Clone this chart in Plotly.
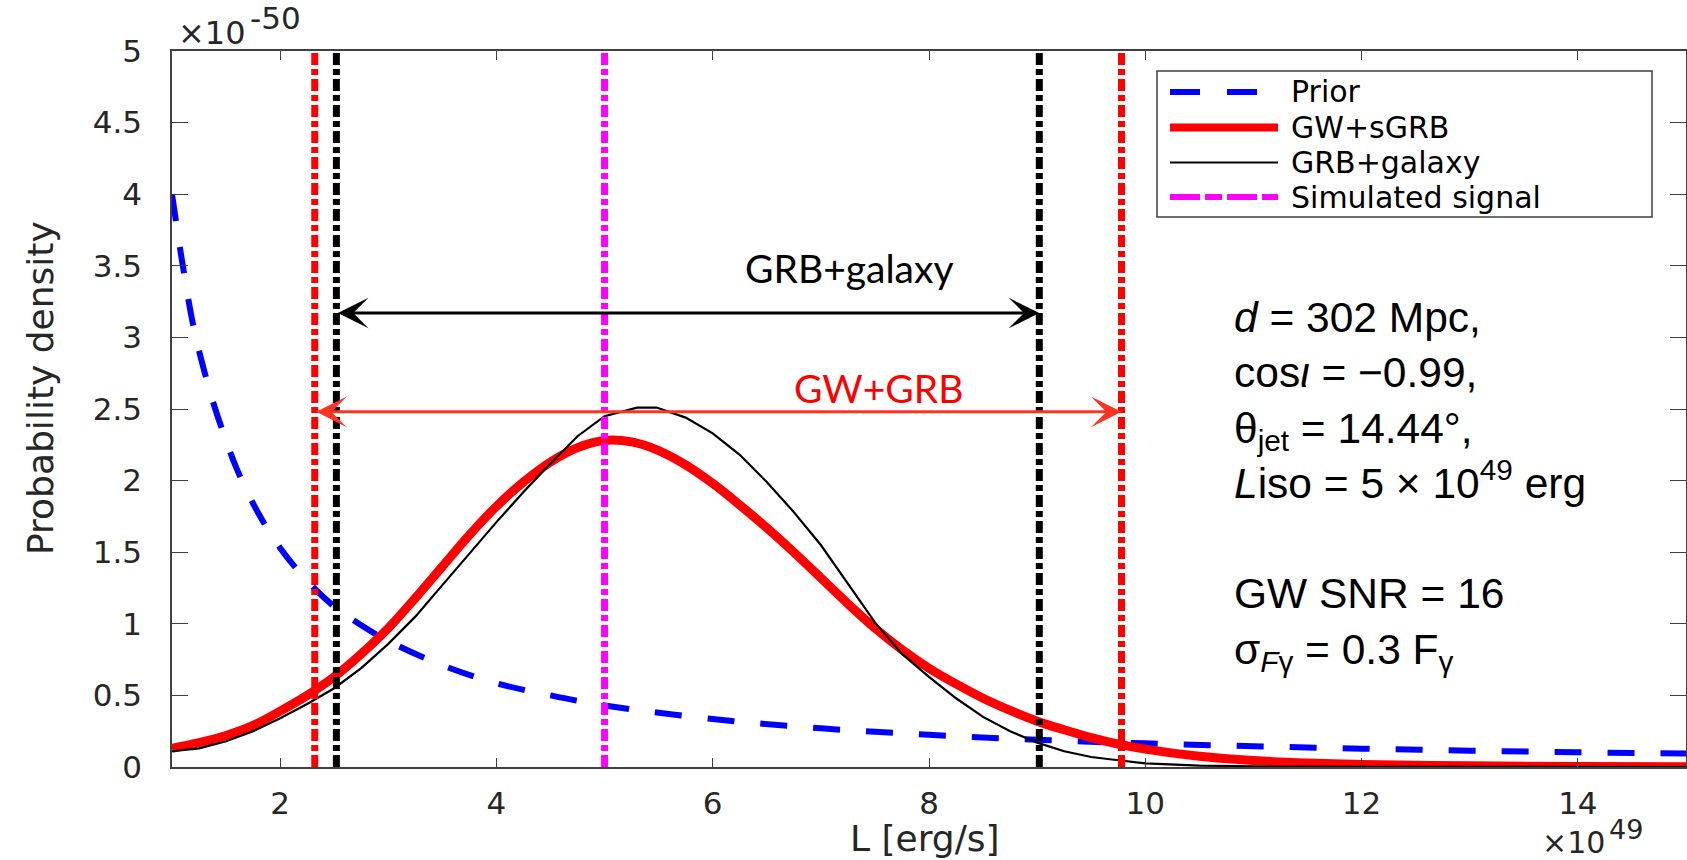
import plotly.graph_objects as go

# ---- data (L in units of 1e49 erg/s, densities in units of 1e-50) ----
L_prior = [1.0, 1.1, 1.2, 1.3, 1.4, 1.5, 1.6, 1.8, 2.0, 2.25, 2.5, 2.75, 3.0,
           3.5, 4.0, 4.5, 5.0, 6.0, 7.0, 8.0, 9.0, 10.0, 11.0, 12.0, 13.0, 14.0, 15.0]
prior_density = [4.00, 3.50, 3.07, 2.76, 2.50, 2.28, 2.08, 1.77, 1.53, 1.30, 1.12, 0.99, 0.88,
                 0.71, 0.585, 0.50, 0.43, 0.335, 0.27, 0.225, 0.19, 0.165, 0.145, 0.128, 0.114, 0.103, 0.094]

L_gw_sgrb = [1.0, 1.25, 1.5, 1.75, 2.0, 2.25, 2.5, 2.75, 3.0, 3.25, 3.5, 3.75, 4.0, 4.25,
             4.5, 4.75, 5.0, 5.25, 5.5, 5.75, 6.0, 6.25, 6.5, 6.75, 7.0, 7.25, 7.5, 7.75,
             8.0, 8.25, 8.5, 8.75, 9.0, 9.25, 9.5, 9.75, 10.0, 10.5, 11.0, 11.5, 12.0, 13.0, 14.0, 15.0]
gw_sgrb_density = [0.13, 0.17, 0.22, 0.29, 0.39, 0.50, 0.63, 0.79, 0.97, 1.18, 1.40, 1.62, 1.82, 1.99,
                   2.13, 2.23, 2.28, 2.27, 2.21, 2.11, 1.98, 1.83, 1.67, 1.50, 1.32, 1.14, 0.97, 0.82,
                   0.69, 0.58, 0.48, 0.395, 0.32, 0.26, 0.205, 0.16, 0.125, 0.075, 0.045, 0.028, 0.018,
                   0.008, 0.004, 0.002]

L_grb_galaxy = [1.0, 1.25, 1.5, 1.75, 2.0, 2.25, 2.5, 2.75, 3.0, 3.25, 3.5, 3.75, 4.0, 4.25,
                4.5, 4.75, 5.0, 5.3, 5.48, 5.75, 6.0, 6.25, 6.5, 6.75, 7.0, 7.25, 7.5, 7.75,
                8.0, 8.25, 8.5, 8.75, 9.0, 9.25, 9.5, 9.75, 10.0, 10.5, 11.0, 12.0, 13.0, 15.0]
grb_galaxy_density = [0.11, 0.13, 0.18, 0.25, 0.34, 0.44, 0.55, 0.69, 0.86, 1.05, 1.27, 1.49, 1.71, 1.92,
                      2.12, 2.31, 2.45, 2.51, 2.51, 2.44, 2.33, 2.18, 1.99, 1.78, 1.55, 1.28, 1.01, 0.79,
                      0.63, 0.48, 0.35, 0.25, 0.17, 0.11, 0.07, 0.047, 0.025, 0.01, 0.004, 0.001, 0.0, 0.0]

L_simulated = 5.0
gw_grb_interval = [2.32, 9.78]
grb_galaxy_interval = [2.52, 9.02]
gw_grb_arrow_level = 2.48
grb_galaxy_arrow_level = 3.17

legend_labels = ["Prior", "GW+sGRB", "GRB+galaxy", "Simulated signal"]
x_ticks = [2, 4, 6, 8, 10, 12, 14]
y_ticks = [0, 0.5, 1, 1.5, 2, 2.5, 3, 3.5, 4, 4.5, 5]
x_range = [1, 15]
y_range = [0, 5]

# ---- page geometry ----
FIG_W, FIG_H = 1687, 860
M_L, M_R, M_T, M_B = 172, 1, 51, 93
PLOT_W = FIG_W - M_L - M_R
PLOT_H = FIG_H - M_T - M_B


def px(xpix):
    return (xpix - M_L) / PLOT_W


def py(ypix):
    return (FIG_H - M_B - ypix) / PLOT_H


BLUE, RED, BLACK, MAGENTA = "#0000ff", "#ff0000", "#000000", "#ff00ff"
AXIS = "#404040"
TICK_TXT = "#262626"
DASHDOT = "12px,4px,6px,4px"

fig = go.Figure()

# posterior / prior curves
fig.add_trace(go.Scatter(x=L_prior, y=prior_density, mode="lines", name=legend_labels[0],
                         line=dict(color=BLUE, width=6, dash="27px,26px", shape="spline"),
                         showlegend=False))
fig.add_trace(go.Scatter(x=L_gw_sgrb, y=gw_sgrb_density, mode="lines", name=legend_labels[1],
                         line=dict(color=RED, width=9, shape="spline"), showlegend=False))
fig.add_trace(go.Scatter(x=L_grb_galaxy, y=grb_galaxy_density, mode="lines", name=legend_labels[2],
                         line=dict(color=BLACK, width=2.2), showlegend=False))

# credible-interval bounds and simulated value
for v in gw_grb_interval:
    fig.add_trace(go.Scatter(x=[v, v], y=y_range, mode="lines", showlegend=False,
                             line=dict(color=RED, width=7, dash=DASHDOT)))
for v in grb_galaxy_interval:
    fig.add_trace(go.Scatter(x=[v, v], y=y_range, mode="lines", showlegend=False,
                             line=dict(color=BLACK, width=7, dash=DASHDOT)))
fig.add_trace(go.Scatter(x=[L_simulated, L_simulated], y=y_range, mode="lines",
                         name=legend_labels[3], showlegend=False,
                         line=dict(color=MAGENTA, width=7, dash=DASHDOT)))

annotations = []
# double-headed interval arrows
for (lo, hi), level, col in [(grb_galaxy_interval, grb_galaxy_arrow_level, BLACK),
                             (gw_grb_interval, gw_grb_arrow_level, "#ff3322")]:
    annotations.append(dict(x=hi, y=level, ax=lo, ay=level, xref="x", yref="y",
                            axref="x", ayref="y", text="", showarrow=True,
                            arrowside="end+start", arrowhead=3, startarrowhead=3,
                            arrowsize=1.7, startarrowsize=1.7, arrowwidth=3,
                            arrowcolor=col, standoff=0, startstandoff=0))

CAL = "Lato, Open Sans, sans-serif"
annotations.append(dict(x=px(849), y=py(268), xref="paper", yref="paper", text="GRB+galaxy",
                        showarrow=False, xanchor="center", yanchor="middle",
                        font=dict(family=CAL, size=39, color=BLACK)))
annotations.append(dict(x=px(878), y=py(388), xref="paper", yref="paper", text="GW+GRB",
                        showarrow=False, xanchor="center", yanchor="middle",
                        font=dict(family=CAL, size=39, color=RED)))

# parameter block
info = ("<i>d</i> = 302 Mpc,<br>"
        "cos<i>ι</i> = −0.99,<br>"
        "θ<sub>jet</sub> = 14.44°,<br>"
        "<i>L</i>iso = 5 × 10<sup>49</sup> erg<br>"
        "<br>"
        "GW SNR = 16<br>"
        "σ<sub><i>F</i>γ</sub> = 0.3 F<sub>γ</sub>")
annotations.append(dict(x=px(1232), y=py(292), xref="paper", yref="paper", text=info,
                        showarrow=False, xanchor="left", yanchor="top", align="left",
                        font=dict(family="Liberation Sans, Arial, sans-serif", size=42.5, color=BLACK)))

# axis titles and scale factors
MF = "DejaVu Sans, sans-serif"
annotations.append(dict(x=px(40), y=py(388), xref="paper", yref="paper",
                        text="Probability density", textangle=-90, showarrow=False,
                        xanchor="center", yanchor="middle",
                        font=dict(family=MF, size=36, color=TICK_TXT)))
annotations.append(dict(x=px(925), y=py(838), xref="paper", yref="paper",
                        text="L [erg/s]", showarrow=False, xanchor="center", yanchor="middle",
                        font=dict(family=MF, size=36, color=TICK_TXT)))
annotations.append(dict(x=px(176), y=py(33), xref="paper", yref="paper", text="×10",
                        showarrow=False, xanchor="left", yanchor="middle",
                        font=dict(family=MF, size=32, color=TICK_TXT)))
annotations.append(dict(x=px(248), y=py(18), xref="paper", yref="paper", text="-50",
                        showarrow=False, xanchor="left", yanchor="middle",
                        font=dict(family=MF, size=31, color=TICK_TXT)))
annotations.append(dict(x=px(1540), y=py(842), xref="paper", yref="paper", text="×10",
                        showarrow=False, xanchor="left", yanchor="middle",
                        font=dict(family=MF, size=30, color=TICK_TXT)))
annotations.append(dict(x=px(1607), y=py(830), xref="paper", yref="paper", text="49",
                        showarrow=False, xanchor="left", yanchor="middle",
                        font=dict(family=MF, size=27, color=TICK_TXT)))

# legend box
shapes = [dict(type="rect", xref="paper", yref="paper", x0=px(1157), x1=px(1652),
               y0=py(217), y1=py(71), line=dict(color=AXIS, width=1.5), fillcolor="white",
               layer="above")]
legend_rows = [92, 127.5, 162.5, 197]
legend_styles = [dict(color=BLUE, width=6, dash="30px,27px"),
                 dict(color=RED, width=8),
                 dict(color=BLACK, width=2),
                 dict(color=MAGENTA, width=6, dash="30px,5px,17px,5px")]
for label, row, style in zip(legend_labels, legend_rows, legend_styles):
    shapes.append(dict(type="line", xref="paper", yref="paper", x0=px(1170), x1=px(1278),
                       y0=py(row), y1=py(row), line=style, layer="above"))
    annotations.append(dict(x=px(1289), y=py(row), xref="paper", yref="paper", text=label,
                            showarrow=False, xanchor="left", yanchor="middle",
                            font=dict(family=MF, size=30, color=BLACK)))

axis_common = dict(showline=True, linecolor=AXIS, linewidth=1.5, mirror="ticks",
                   ticks="inside", tickcolor=AXIS, tickwidth=1.3, showgrid=False,
                   zeroline=False, tickfont=dict(family=MF, size=31, color=TICK_TXT))

fig.update_layout(
    width=FIG_W, height=FIG_H,
    margin=dict(l=M_L, r=M_R, t=M_T, b=M_B, autoexpand=False),
    paper_bgcolor="white", plot_bgcolor="white",
    showlegend=False,
    xaxis=dict(range=x_range, tickvals=x_ticks, ticktext=[f"{v:g}" for v in x_ticks],
               ticklen=9, ticklabelstandoff=8, **axis_common),
    yaxis=dict(range=y_range, tickvals=y_ticks, ticktext=[f"{v:g}" for v in y_ticks],
               ticklen=16, ticklabelstandoff=22, **axis_common),
    annotations=annotations,
    shapes=shapes,
)

fig.write_html("out.html")
